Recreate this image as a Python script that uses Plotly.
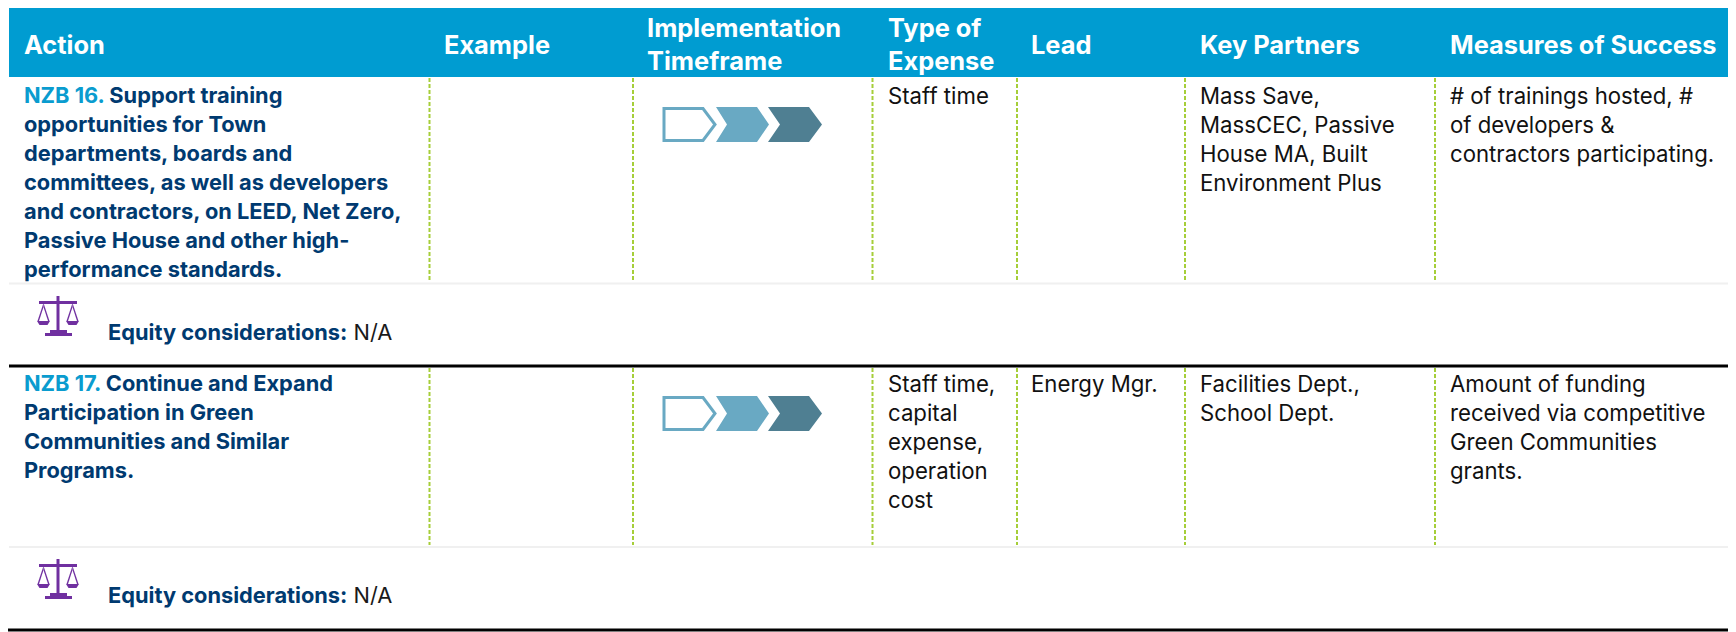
import plotly.graph_objects as go

FONT = "Inter"
HEAD_BG, NAVY, CYAN, GREEN, GREY, PURPLE = "#009CD1", "#003A70", "#0A9CCF", "#A6CE39", "#F0F0F0", "#7030A0"
HEAD_SIZE, BODY_SIZE, BOLD_SIZE = 25.4, 22.2, 21.8

headers = [("Action", 23, [44]), ("Example", 443, [44]), ("Implementation<br>Timeframe", 646, [27, 60]),
           ("Type of<br>Expense", 887, [27, 60]), ("Lead", 1030, [44]), ("Key Partners", 1199, [44]),
           ("Measures of Success", 1449, [44])]
actions = [("NZB 16.", ["Support training", "opportunities for Town", "departments, boards and",
                        "committees, as well as developers", "and contractors, on LEED, Net Zero,",
                        "Passive House and other high-", "performance standards."]),
           ("NZB 17.", ["Continue and Expand", "Participation in Green", "Communities and Similar", "Programs."])]
expense = [["Staff time"], ["Staff time,", "capital", "expense,", "operation", "cost"]]
lead = [[], ["Energy Mgr."]]
partners = [["Mass Save,", "MassCEC, Passive", "House MA, Built", "Environment Plus"],
            ["Facilities Dept.,", "School Dept."]]
measures = [["# of trainings hosted, #", "of developers &", "contractors participating."],
            ["Amount of funding", "received via competitive", "Green Communities", "grants."]]
equity_label, equity_value = "Equity considerations:", "N/A"

row_top = [95, 383]
row_offset = [0, 289]
equity_y = [332, 595]
col_x = dict(action=23, expense=887, lead=1030, partners=1199, measures=1449)
dash_x = [429.5, 633, 872.5, 1017, 1185, 1435]
dash_y = [(78, 282), (368, 545)]
LH = 29

ann, sh = [], []

def text(x, y, s, size=BODY_SIZE, color="#111111", xa="left"):
    ann.append(dict(x=x, y=y, xref="x", yref="y", text=s, showarrow=False, xanchor=xa, yanchor="middle",
                    align="left", borderpad=0, font=dict(family=FONT, size=size, color=color)))

def poly(pts, fill=None, line=None, lw=0):
    p = "M " + " L ".join(f"{a} {b}" for a, b in pts) + " Z"
    sh.append(dict(type="path", path=p, xref="x", yref="y", fillcolor=fill or "rgba(0,0,0,0)",
                   line=dict(color=line or "rgba(0,0,0,0)", width=lw)))

def hline(x0, x1, y, color, w):
    sh.append(dict(type="line", x0=x0, x1=x1, y0=y, y1=y, xref="x", yref="y", line=dict(color=color, width=w)))

def rect(x0, x1, y0, y1, color):
    sh.append(dict(type="rect", x0=x0, x1=x1, y0=y0, y1=y1, xref="x", yref="y", fillcolor=color, line=dict(width=0)))

# header
rect(9, 1736, 7, 77, HEAD_BG)
for label, x, ys in headers:
    for part, y in zip(label.split("<br>"), ys):
        text(x, y, f"<b>{part}</b>", HEAD_SIZE, "#FFFFFF")

for i, (code, lines) in enumerate(actions):
    y0 = row_top[i]
    for j, ln in enumerate(lines):
        lead_txt = f'<span style="color:{CYAN}">{code}</span> ' if j == 0 else ""
        text(col_x["action"], y0 + j * LH, f"<b>{lead_txt}{ln}</b>", BOLD_SIZE, NAVY)
    for key, col in (("expense", expense), ("lead", lead), ("partners", partners), ("measures", measures)):
        for j, ln in enumerate(col[i]):
            text(col_x[key], y0 + j * LH, ln)
    # dashed dividers
    for x in dash_x:
        sh.append(dict(type="line", x0=x, x1=x, y0=dash_y[i][0], y1=dash_y[i][1], xref="x", yref="y",
                       line=dict(color=GREEN, width=2, dash="4px,2px")))
    # chevrons
    o = row_offset[i]
    poly([(664, 108.5+o), (703, 108.5+o), (715, 124.5+o), (703, 140.5+o), (664, 140.5+o)], None, "#69A9C3", 3)
    poly([(716, 107+o), (757, 107+o), (769, 124.5+o), (757, 142+o), (716, 142+o), (727, 124.5+o)], "#69A9C3")
    poly([(768, 107+o), (809, 107+o), (822, 124.5+o), (809, 142+o), (768, 142+o), (780, 124.5+o)], "#4F7F92")
    # equity line
    ey = equity_y[i]
    text(107, ey, f"<b>{equity_label}</b> <span style='color:#1a1a1a'>{equity_value}</span>", BOLD_SIZE, NAVY)
    # scales icon
    t = ey - 36
    rect(56.5, 59.5, t, t + 38, PURPLE)
    rect(39, 77, t + 5, t + 8, PURPLE)
    rect(45, 72, t + 37, t + 40, PURPLE)
    rect(50, 67, t + 34, t + 37, PURPLE)
    for cx in (43.5, 72.5):
        poly([(cx, t + 7), (cx - 6, t + 25), (cx - 4.5, t + 25), (cx, t + 11)], PURPLE)
        poly([(cx, t + 7), (cx + 6, t + 25), (cx + 4.5, t + 25), (cx, t + 11)], PURPLE)
        poly([(cx - 6.5, t + 25), (cx + 6.5, t + 25), (cx + 4, t + 29), (cx - 4, t + 29)], PURPLE)

hline(9, 1736, 283.5, GREY, 2)
hline(9, 1736, 366, "#000000", 3)
hline(9, 1736, 547, GREY, 2)
hline(7, 1736, 630, "#000000", 3)

# the page's 8px body margin offsets the plot, so the axes cover the remaining window
fig = go.Figure()
fig.update_layout(width=1728, height=624, margin=dict(l=0, r=0, t=0, b=0), paper_bgcolor="white", plot_bgcolor="white",
                  xaxis=dict(range=[8, 1736], visible=False, fixedrange=True),
                  yaxis=dict(range=[632, 8], visible=False, fixedrange=True),
                  showlegend=False, annotations=ann, shapes=sh)
fig.write_html("out.html", config=dict(displayModeBar=False))
